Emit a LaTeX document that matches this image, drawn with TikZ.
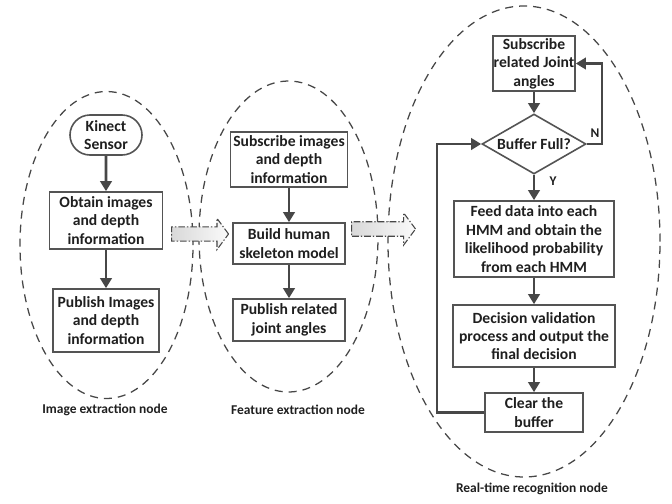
\documentclass[tikz,border=0pt]{standalone}
\usepackage{fontspec}
\setmainfont{Carlito}
\usetikzlibrary{shapes.geometric,shapes.arrows,shapes.misc,arrows.meta}
\definecolor{boxc}{gray}{0.33}
\definecolor{arrc}{gray}{0.28}
\definecolor{ellc}{gray}{0.28}
\definecolor{txt}{gray}{0.12}
\begin{document}
\begin{tikzpicture}[x=0.75pt,y=-0.75pt,
  font=\fontsize{11.7}{13.8}\selectfont\bfseries,
  box/.style={draw=boxc, line width=1.2pt, align=center, inner sep=0pt, text=txt, fill=white},
  flow/.style={draw=arrc, line width=2.2pt, -{Triangle[length=7.5pt,width=8.5pt]}},
  region/.style={ellipse, draw=ellc, dash pattern=on 6pt off 4.5pt, line width=0.95pt, inner sep=0pt},
  regioncaption/.style={font=\fontsize{10.1}{12}\selectfont\bfseries, text=txt},
  yn/.style={font=\fontsize{10}{12}\selectfont\bfseries, text=txt},
  bigarrow/.style={single arrow, draw=ellc, line width=0.8pt,
    dash pattern=on 5pt off 1.5pt on 1pt off 1.5pt,
    left color=black!15, right color=black!2,
    inner xsep=0pt, inner ysep=4.9pt, single arrow head extend=6.4pt,
    single arrow tip angle=107, anchor=tail}]
\useasboundingbox (0,0) rectangle (672,504);

% regions
\node[region, minimum width=129.75pt, minimum height=230.25pt] (regA) at (106.5,245) {};
\node[region, minimum width=134.25pt, minimum height=233.25pt] (regB) at (288.5,236.5) {};
\node[region, minimum width=204pt, minimum height=353.25pt] (regC) at (524,241.5) {};

% block arrows
\node[bigarrow, minimum height=42.75pt, minimum width=22.5pt] (ba1) at (171,234) {};
\node[bigarrow, minimum height=48pt, minimum width=24pt] (ba2) at (351,229) {};

% left column
\node[box, rounded rectangle, minimum width=54pt, minimum height=30pt] (kin) at (106,135) {Kinect\\Sensor};
\node[box, minimum width=84.75pt, minimum height=42.75pt] (obt) at (106,220.5) {Obtain images\\and depth\\information};
\node[box, minimum width=79.5pt, minimum height=47.25pt] (pubA) at (106,320.5) {Publish Images\\and depth\\information};

% middle column
\node[box, minimum width=87.75pt, minimum height=41.25pt] (subA) at (289,159.5) {Subscribe images\\and depth\\information};
\node[box, minimum width=84pt, minimum height=30.75pt] (bld) at (289,243.5) {Build human\\skeleton model};
\node[box, minimum width=84pt, minimum height=31.5pt] (pubB) at (289,320) {Publish related\\joint angles};

% right column
\node[box, minimum width=61.5pt, minimum height=41.25pt] (subB) at (534,63.5) {Subscribe\\related Joint\\angles};
\node[box, diamond, aspect=1.73, minimum width=78pt, minimum height=45pt] (buf) at (534,144) {Buffer Full?};
\node[box, minimum width=120pt, minimum height=57pt] (feed) at (534,239) {Feed data into each\\HMM and obtain the\\likelihood probability\\from each HMM};
\node[box, minimum width=121.5pt, minimum height=46.5pt] (dec) at (534,336) {Decision validation\\process and output the\\final decision};
\node[box, minimum width=73.5pt, minimum height=29.25pt] (clr) at (534,412.5) {Clear the\\buffer};

% captions
\node[regioncaption] (capA) at (105,410) {Image extraction node};
\node[regioncaption] (capB) at (298,410) {Feature extraction node};
\node[regioncaption] (capC) at (532,489) {Real-time recognition node};

% flows
\draw[flow] (kin) -- (obt);
\draw[flow] (obt) -- (pubA);
\draw[flow] (subA) -- (bld);
\draw[flow] (bld) -- (pubB);
\draw[flow] (subB) -- (buf);
\draw[flow] (buf) -- (feed);
\draw[flow] (feed) -- (dec);
\draw[flow] (dec) -- (clr);

\coordinate (lp) at (437,0);
\coordinate (rp) at (602,0);
\draw[flow] (clr.west) -- (clr.west -| lp) |- (buf.west);
\draw[flow] (buf.east) -- (buf.east -| rp) |- (subB.east);

\node[yn] (nlab) at (595,133) {N};
\node[yn] (ylab) at (553,181) {Y};
\end{tikzpicture}
\end{document}
